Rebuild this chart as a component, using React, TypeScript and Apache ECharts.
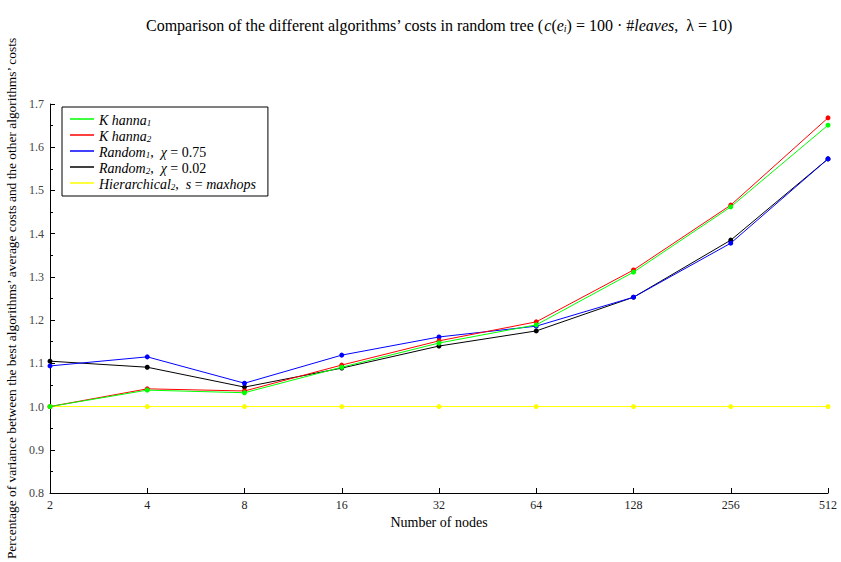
import React, { useEffect, useRef } from "react";
import * as echarts from "echarts";

const categories = ["2", "4", "8", "16", "32", "64", "128", "256", "512"];
const khanna1 = [1.0, 1.038, 1.032, 1.091, 1.147, 1.189, 1.311, 1.462, 1.651];
const khanna2 = [1.0, 1.041, 1.036, 1.096, 1.152, 1.196, 1.316, 1.466, 1.668];
const random1 = [1.094, 1.115, 1.054, 1.119, 1.161, 1.186, 1.253, 1.378, 1.573];
const random2 = [1.105, 1.091, 1.045, 1.089, 1.140, 1.175, 1.253, 1.385, 1.573];
const hierarchical2 = [1.0, 1.0, 1.0, 1.0, 1.0, 1.0, 1.0, 1.0, 1.0];

const seriesNames = ["Khanna1", "Khanna2", "Random1", "Random2", "Hierarchical2"];
const seriesColors = ["#00ff00", "#ff0000", "#0000ff", "#000000", "#ffff00"];
const seriesData = [khanna1, khanna2, random1, random2, hierarchical2];

const legendRich: Record<string, string> = {
  Khanna1: "{i|K hanna}{s|1}",
  Khanna2: "{i|K hanna}{s|2}",
  Random1: "{i|Random}{s|1}{n|,  }{i|χ}{n| = 0.75}",
  Random2: "{i|Random}{s|2}{n|,  }{i|χ}{n| = 0.02}",
  Hierarchical2: "{i|Hierarchical}{s|2}{n|,  }{i|s}{n| = }{i|maxhops}",
};

const FONT = "Liberation Serif";

export default function App() {
  const ref = useRef<HTMLDivElement>(null);
  useEffect(() => {
    if (!ref.current) return;
    const chart = echarts.init(ref.current, undefined, { renderer: "svg" });
    chart.setOption({
      animation: false,
      backgroundColor: "#ffffff",
      title: {
        left: 141,
        top: 8,
        text:
          "{n|Comparison of the different algorithms’ costs in random tree (}{i|c}{n|(}{i|e}{s|i}{n|) = 100 · #}{i|leaves}{n|,  λ = 10)}",
        textStyle: {
          fontWeight: "normal",
          rich: {
            n: { fontFamily: FONT, fontSize: 16, fontWeight: "normal", color: "#000", lineHeight: 20, verticalAlign: "bottom" },
            i: { fontFamily: FONT, fontSize: 16, fontWeight: "normal", fontStyle: "italic", color: "#000", lineHeight: 20, verticalAlign: "bottom" },
            s: { fontFamily: FONT, fontSize: 10, fontWeight: "normal", fontStyle: "italic", color: "#000", lineHeight: 16, verticalAlign: "bottom" },
          },
        },
      },
      legend: {
        left: 62,
        top: 107,
        orient: "vertical",
        backgroundColor: "#fff",
        borderColor: "#000",
        borderWidth: 1,
        borderRadius: 0,
        padding: [6, 12, 5, 8],
        itemGap: 2,
        itemWidth: 24,
        itemHeight: 1.5,
        icon: "rect",
        data: seriesNames,
        formatter: (name: string) => legendRich[name] || name,
        textStyle: {
          rich: {
            n: { fontFamily: FONT, fontSize: 14, color: "#000", lineHeight: 16, verticalAlign: "bottom" },
            i: { fontFamily: FONT, fontSize: 14, fontStyle: "italic", color: "#000", lineHeight: 16, verticalAlign: "bottom" },
            s: { fontFamily: FONT, fontSize: 9, fontStyle: "italic", color: "#000", lineHeight: 13, verticalAlign: "bottom" },
          },
        },
      },
      grid: { left: 50, right: 13, top: 104, bottom: 69, containLabel: false, outerBoundsMode: "none" },
      xAxis: {
        type: "category",
        data: categories,
        boundaryGap: false,
        name: "Number of nodes",
        nameLocation: "middle",
        nameGap: 20,
        nameTextStyle: { fontFamily: FONT, fontSize: 14, color: "#000" },
        axisLine: { lineStyle: { color: "#000", width: 1 } },
        axisTick: { inside: true, length: 5, alignWithLabel: true, lineStyle: { color: "#000" } },
        axisLabel: { fontFamily: FONT, fontSize: 12, color: "#222", margin: 6 },
        splitLine: { show: false },
      },
      yAxis: {
        type: "value",
        min: 0.8,
        max: 1.7,
        interval: 0.1,
        name: "Percentage of variance between the best algorithms’ average costs and the other algorithms’ costs",
        nameLocation: "middle",
        nameGap: 28,
        nameTextStyle: { fontFamily: FONT, fontSize: 13.4, color: "#000" },
        axisLine: { show: true, lineStyle: { color: "#000", width: 1 } },
        axisTick: { show: true, inside: true, length: 5, lineStyle: { color: "#000" } },
        minorTick: { show: true, splitNumber: 2, length: 3, lineStyle: { color: "#000" } },
        axisLabel: {
          fontFamily: FONT,
          fontSize: 12,
          color: "#444",
          margin: 6,
          formatter: (v: number) => v.toFixed(1),
        },
        splitLine: { show: false },
      },
      series: seriesNames.map((name, idx) => ({
        name,
        type: "line",
        data: seriesData[idx],
        symbol: "circle",
        symbolSize: 5,
        color: seriesColors[idx],
        lineStyle: { width: 1, color: seriesColors[idx] },
        itemStyle: { color: seriesColors[idx] },
        z: 10 - idx,
      })),
    });
    return () => chart.dispose();
  }, []);
  return (
    <div
      ref={ref}
      style={{ position: "absolute", left: 0, top: 0, width: 841, height: 562 }}
    />
  );
}
